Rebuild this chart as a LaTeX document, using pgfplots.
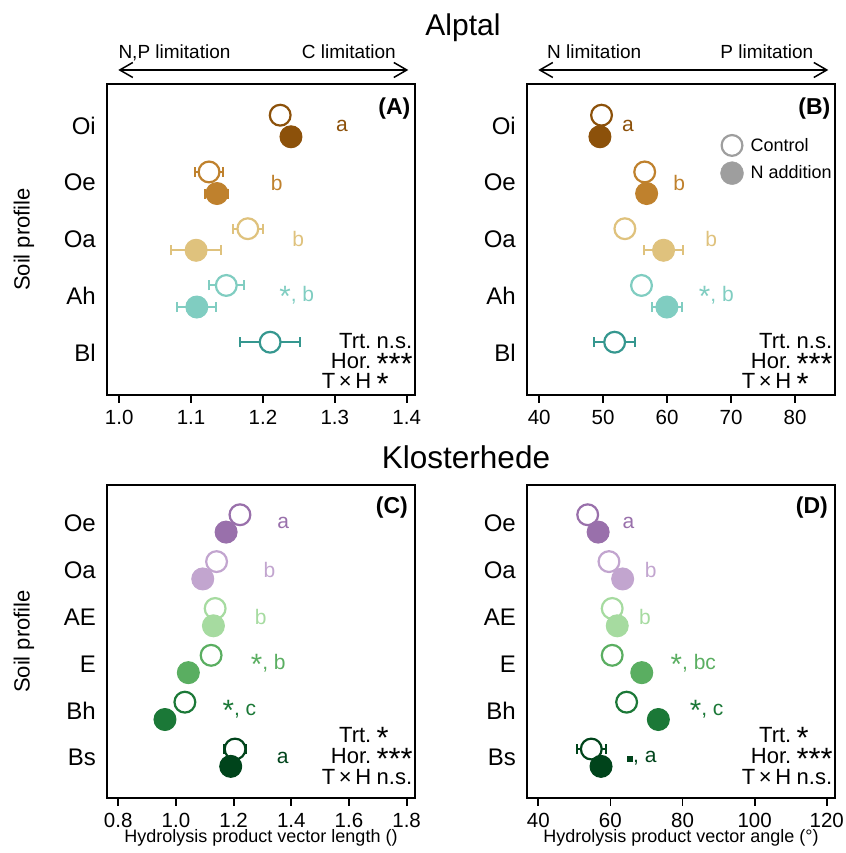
\documentclass[border=0pt]{standalone}
\usepackage{fontspec}
\setmainfont{Liberation Sans}
\usepackage{graphicx}
\usepackage{pgfplots}
\pgfplotsset{compat=1.18}
\usetikzlibrary{arrows.meta}

% Alptal horizons (BrBG)
\definecolor{cOi}{HTML}{8C510A}
\definecolor{cOe}{HTML}{BF812D}
\definecolor{cOa}{HTML}{DFC27D}
\definecolor{cAh}{HTML}{80CDC1}
\definecolor{cBl}{HTML}{35978F}
% Klosterhede horizons (PRGn)
\definecolor{kOe}{HTML}{9970AB}
\definecolor{kOa}{HTML}{C2A5CF}
\definecolor{kAE}{HTML}{A6DBA0}
\definecolor{kE}{HTML}{5AAE61}
\definecolor{kBh}{HTML}{1B7837}
\definecolor{kBs}{HTML}{00441B}
\definecolor{leg}{HTML}{9E9E9E}

\newcommand{\fs}[1]{\fontsize{#1}{#1}\selectfont}
\newcommand{\st}{\raisebox{-0.45ex}{\scalebox{1.4}{*}}}
\newcommand{\dotsig}{\rule{0.3em}{0.3em}}

% control (open) and N addition (filled) markers
\newcommand{\ctl}[3]{\addplot[color=#1, only marks, mark=*, mark size=10.4pt,
  mark options={draw=#1, fill=white, line width=2.2pt}] coordinates {(#2,#3)};}
\newcommand{\nad}[3]{\addplot[color=#1, only marks, mark=*, mark size=11pt,
  mark options={draw=#1, fill=#1, line width=1pt}] coordinates {(#2,#3)};}
% horizontal standard-error bar, drawn beneath its marker
\newcommand{\err}[4]{\addplot[color=#1, only marks, mark=none,
  error bars/.cd, x dir=both, x explicit, error mark=|,
  error bar style={draw=#1, line width=2pt},
  error mark options={draw=#1, line width=2pt, mark size=5pt}]
  coordinates {(#2,#3) +- (#4,0)};}
\newcommand{\ctle}[4]{\err{#1}{#2}{#3}{#4}\ctl{#1}{#2}{#3}}
\newcommand{\nade}[4]{\err{#1}{#2}{#3}{#4}\nad{#1}{#2}{#3}}
\newcommand{\lab}[4]{\node[text=#1, font=\fs{21}, anchor=center] at (axis cs:#2,#3) {#4};}
% model summary in the lower right corner
\newcommand{\stats}[6]{%
  \node[anchor=base east, font=\fs{22}, inner sep=0pt, xshift=-2.5pt, yshift=#1] at (rel axis cs:0.8669,0) {Trt.};
  \node[anchor=base west, font=\fs{22}, inner sep=0pt, xshift=2.5pt, yshift=#1] at (rel axis cs:0.8669,0) {#4};
  \node[anchor=base east, font=\fs{22}, inner sep=0pt, xshift=-2.5pt, yshift=#2] at (rel axis cs:0.8669,0) {Hor.};
  \node[anchor=base west, font=\fs{22}, inner sep=0pt, xshift=2.5pt, yshift=#2] at (rel axis cs:0.8669,0) {#5};
  \node[anchor=base east, font=\fs{22}, inner sep=0pt, xshift=-2.5pt, yshift=#3] at (rel axis cs:0.8669,0) {T\,×\,H};
  \node[anchor=base west, font=\fs{22}, inner sep=0pt, xshift=2.5pt, yshift=#3] at (rel axis cs:0.8669,0) {#6};}
\newcommand{\panellab}[3]{\node[anchor=base east, font=\bfseries\fs{23}, inner sep=0pt, xshift=#2, yshift=#3] at (rel axis cs:1,1) {#1};}

\pgfplotsset{
  panel/.style={
    scale only axis, width=308pt, anchor=south west,
    axis line style={line width=1.8pt},
    tick align=outside, xtick pos=left,
    major tick length=8pt,
    xtick style={line width=1.8pt, black},
    ytick style={draw=none},
    tick label style={font=\fs{20.5}},
    yticklabel style={font=\fs{24}, inner sep=0pt, xshift=-3pt},
    xticklabel style={inner sep=0pt, anchor=north},
    xticklabel shift=7pt,
    ylabel style={font=\fs{22}, at={(rel axis cs:-0.2695,0.5)}, anchor=center},
    xlabel style={font=\fs{18}, at={(rel axis cs:0.5,0)}, anchor=center, yshift=-40pt},
    clip=false,
  }
}

\begin{document}
\begin{tikzpicture}[x=1pt,y=1pt]
\useasboundingbox (0,0) rectangle (845,853);

% site titles and limitation arrows
\node[font=\fs{30}] at (463,825) {Alptal};
\node[font=\fs{31.5}] at (466,396) {Klosterhede};
\draw[line width=1.5pt, {Straight Barb[length=13pt,width=15pt]}-{Straight Barb[length=13pt,width=15pt]}] (118.3,783) -- (408.3,783);
\draw[line width=1.5pt, {Straight Barb[length=13pt,width=15pt]}-{Straight Barb[length=13pt,width=15pt]}] (538.3,783) -- (828.3,783);
\node[anchor=base west, inner sep=0pt, font=\fs{19}] at (118.3,794.7) {N,P limitation};
\node[anchor=base east, inner sep=0pt, font=\fs{19}] at (396,794.7) {C limitation};
\node[anchor=base west, inner sep=0pt, font=\fs{19}] at (547,794.7) {N limitation};
\node[anchor=base east, inner sep=0pt, font=\fs{19}] at (813.5,794.7) {P limitation};

% (A) Alptal, vector length
\begin{axis}[panel, at={(107pt,458pt)}, height=311pt,
  xmin=0.983, xmax=1.4116, ymin=0.26, ymax=5.74,
  xtick={1.0,1.1,1.2,1.3,1.4}, xticklabels={1.0,1.1,1.2,1.3,1.4},
  ytick={1,2,3,4,5}, yticklabels={Bl,Ah,Oa,Oe,Oi},
  ylabel={Soil profile}]
\ctl{cOi}{1.224}{5.19}
\nad{cOi}{1.239}{4.81}
\ctle{cOe}{1.125}{4.19}{0.020}
\nade{cOe}{1.136}{3.81}{0.016}
\ctle{cOa}{1.179}{3.19}{0.021}
\nade{cOa}{1.107}{2.81}{0.035}
\ctle{cAh}{1.149}{2.19}{0.024}
\nade{cAh}{1.108}{1.81}{0.027}
\ctle{cBl}{1.210}{1.19}{0.042}
\lab{cOi}{1.310}{5}{a}
\lab{cOe}{1.219}{4}{b}
\lab{cOa}{1.249}{3}{b}
\lab{cAh}{1.247}{2}{\st, b}
\panellab{(A)}{-4.5pt}{-31pt}
\stats{46pt}{26pt}{6pt}{n.s.}{\st\st\st}{\st}
\end{axis}

% (B) Alptal, vector angle
\begin{axis}[panel, at={(527pt,458pt)}, height=311pt,
  xmin=38.1, xmax=86.25, ymin=0.26, ymax=5.74,
  xtick={40,50,60,70,80}, xticklabels={40,50,60,70,80},
  ytick={1,2,3,4,5}, yticklabels={Bl,Ah,Oa,Oe,Oi},
  legend style={draw=none, fill=none, font=\fs{18}, at={(rel axis cs:0.627,0.840)}, anchor=north west,
    inner sep=0pt, row sep=4.5pt, nodes={inner sep=2pt},
    /tikz/every odd column/.append style={column sep=5pt}},
  legend cell align=left]
\addlegendimage{legend image code/.code={\draw[leg, line width=2.2pt, fill=white] (0pt,0pt) circle[radius=10.4pt];}}
\addlegendentry{Control}
\addlegendimage{legend image code/.code={\fill[leg] (0pt,0pt) circle[radius=11.5pt];}}
\addlegendentry{N addition}
\ctl{cOi}{49.75}{5.19}
\nad{cOi}{49.5}{4.81}
\ctl{cOe}{56.5}{4.19}
\nad{cOe}{56.8}{3.81}
\ctl{cOa}{53.4}{3.19}
\nade{cOa}{59.45}{2.81}{3.05}
\ctl{cAh}{56.0}{2.19}
\nade{cAh}{59.97}{1.81}{2.3}
\ctle{cBl}{51.8}{1.19}{3.2}
\lab{cOi}{53.9}{5}{a}
\lab{cOe}{61.9}{4}{b}
\lab{cOa}{66.9}{3}{b}
\lab{cAh}{67.7}{2}{\st, b}
\panellab{(B)}{-4.5pt}{-31pt}
\stats{46pt}{26pt}{6pt}{n.s.}{\st\st\st}{\st}
\end{axis}

% (C) Klosterhede, vector length
\begin{axis}[panel, at={(107pt,55pt)}, height=313pt,
  xmin=0.761, xmax=1.829, ymin=0.14, ymax=6.82,
  xtick={0.8,1.0,1.2,1.4,1.6,1.8}, xticklabels={0.8,1.0,1.2,1.4,1.6,1.8},
  ytick={1,2,3,4,5,6}, yticklabels={Bs,Bh,E,AE,Oa,Oe},
  ylabel={Soil profile},
  xlabel={Hydrolysis product vector length ()}]
\ctl{kOe}{1.222}{6.185}
\nad{kOe}{1.174}{5.815}
\ctl{kOa}{1.141}{5.185}
\nad{kOa}{1.093}{4.815}
\ctl{kAE}{1.136}{4.185}
\nad{kAE}{1.130}{3.815}
\ctl{kE}{1.122}{3.185}
\nad{kE}{1.043}{2.815}
\ctl{kBh}{1.031}{2.185}
\nad{kBh}{0.962}{1.815}
\ctle{kBs}{1.205}{1.185}{0.038}
\nad{kBs}{1.190}{0.815}
\lab{kOe}{1.372}{6}{a}
\lab{kOa}{1.324}{5}{b}
\lab{kAE}{1.294}{4}{b}
\lab{kE}{1.320}{3}{\st, b}
\lab{kBh}{1.220}{2}{\st, c}
\lab{kBs}{1.370}{1}{a}
\panellab{(C)}{-7pt}{-28.5pt}
\stats{55pt}{34pt}{13pt}{\st}{\st\st\st}{n.s.}
\end{axis}

% (D) Klosterhede, vector angle
\begin{axis}[panel, at={(527pt,55pt)}, height=313pt,
  xmin=36.87, xmax=122.3, ymin=0.14, ymax=6.82,
  xtick={40,60,80,100,120}, xticklabels={40,60,80,100,120},
  ytick={1,2,3,4,5,6}, yticklabels={Bs,Bh,E,AE,Oa,Oe},
  xlabel={Hydrolysis product vector angle (°)}]
\ctl{kOe}{53.7}{6.185}
\nad{kOe}{56.6}{5.815}
\ctl{kOa}{59.6}{5.185}
\nad{kOa}{63.4}{4.815}
\ctl{kAE}{60.5}{4.185}
\nad{kAE}{61.9}{3.815}
\ctl{kE}{60.5}{3.185}
\nad{kE}{68.7}{2.815}
\ctl{kBh}{64.5}{2.185}
\nad{kBh}{73.3}{1.815}
\ctle{kBs}{54.7}{1.185}{4.1}
\nad{kBs}{57.4}{0.815}
\lab{kOe}{65.0}{6}{a}
\lab{kOa}{71.2}{5}{b}
\lab{kAE}{69.6}{4}{b}
\lab{kE}{83.0}{3}{\st, bc}
\lab{kBh}{86.7}{2}{\st, c}
\lab{kBs}{68.7}{1}{\dotsig, a}
\panellab{(D)}{-7pt}{-28.5pt}
\stats{55pt}{34pt}{13pt}{\st}{\st\st\st}{n.s.}
\end{axis}
\end{tikzpicture}
\end{document}
